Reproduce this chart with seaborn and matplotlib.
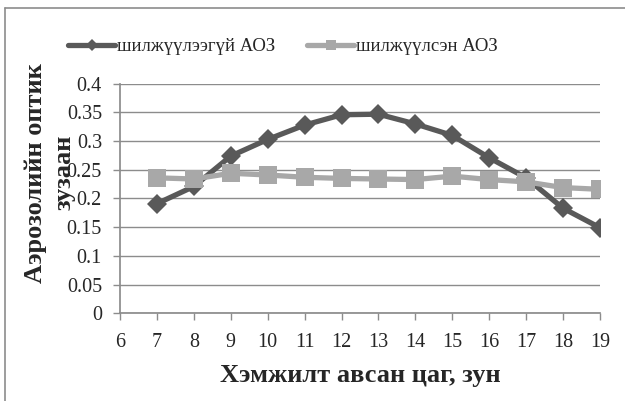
import matplotlib
matplotlib.use("Agg")
import matplotlib.pyplot as plt
import seaborn as sns
import pandas as pd
from matplotlib.lines import Line2D

hours = [7, 8, 9, 10, 11, 12, 13, 14, 15, 16, 17, 18, 19]
uncorrected = [0.191, 0.221, 0.274, 0.303, 0.328, 0.346, 0.347, 0.330, 0.310, 0.271, 0.236, 0.183, 0.149]
corrected = [0.236, 0.234, 0.244, 0.241, 0.237, 0.235, 0.234, 0.233, 0.239, 0.233, 0.229, 0.219, 0.216]
series_names = ["шилжүүлээгүй АОЗ", "шилжүүлсэн АОЗ"]
x_ticks = list(range(6, 20))
y_ticks = [0, 0.05, 0.1, 0.15, 0.2, 0.25, 0.3, 0.35, 0.4]

df = pd.concat([
    pd.DataFrame({"hour": hours, "value": uncorrected, "series": series_names[0]}),
    pd.DataFrame({"hour": hours, "value": corrected, "series": series_names[1]}),
])

sns.set_theme(style="white")
plt.rcParams['font.family'] = ['Liberation Serif', 'DejaVu Serif']

fig = plt.figure(figsize=(6.25, 4.01), dpi=100)
ax = fig.add_axes([0.192, 0.219, 0.768, 0.572])

palette = {series_names[0]: "#595959", series_names[1]: "#a8a8a8"}
markers = {series_names[0]: "D", series_names[1]: "s"}
sns.lineplot(data=df, x="hour", y="value", hue="series", style="series",
             palette=palette, markers=markers, dashes=False, linewidth=3.8,
             markersize=10.5, markeredgewidth=0, ax=ax, legend=True)
# make squares a little larger, as in the reference
for ln in ax.lines:
    if ln.get_marker() == "s":
        ln.set_markersize(12.5)

ax.set_xlim(6, 19)
ax.set_ylim(0, 0.4)
ax.set_xticks(x_ticks)
ax.set_xticklabels([str(t) for t in x_ticks])
ax.set_yticks(y_ticks)
ax.set_yticklabels([f"{t:g}" for t in y_ticks])
ax.yaxis.grid(True, color="#8c8c8c", linewidth=1)
ax.set_axisbelow(True)
for s in ["top", "right"]:
    ax.spines[s].set_visible(False)
ax.spines["bottom"].set_color("#8c8c8c")
ax.spines["left"].set_color("#8c8c8c")
ax.tick_params(axis="both", which="major", length=5, width=1, color="#8c8c8c",
               direction="out", labelsize=14.5, bottom=True, left=True)
ax.tick_params(axis="y", pad=8)
ax.tick_params(axis="x", pad=9)

ax.set_xlabel("Хэмжилт авсан цаг, зун", fontsize=19, fontweight="bold", labelpad=9)
ax.set_ylabel("Аэрозолийн оптик\nзузаан", fontsize=19, fontweight="bold",
              linespacing=1.3)
ax.yaxis.set_label_coords(-0.093, 0.613)

h, l = ax.get_legend_handles_labels()
ax.legend(h, l, loc="center", bbox_to_anchor=(0.453, 0.883), bbox_transform=fig.transFigure,
          ncol=2, frameon=False, fontsize=13.5, handlelength=2.5, handletextpad=0.1,
          columnspacing=1.7, markerscale=0.6)

# outer chart frame (top and left edges visible)
fig.add_artist(Line2D([0.008, 1.0], [1 - 8 / 401, 1 - 8 / 401], transform=fig.transFigure,
                      color="#8c8c8c", linewidth=1.2))
fig.add_artist(Line2D([0.008, 0.008], [0.0, 1 - 8 / 401], transform=fig.transFigure,
                      color="#8c8c8c", linewidth=1.2))

fig.savefig("out.png", dpi=100)
